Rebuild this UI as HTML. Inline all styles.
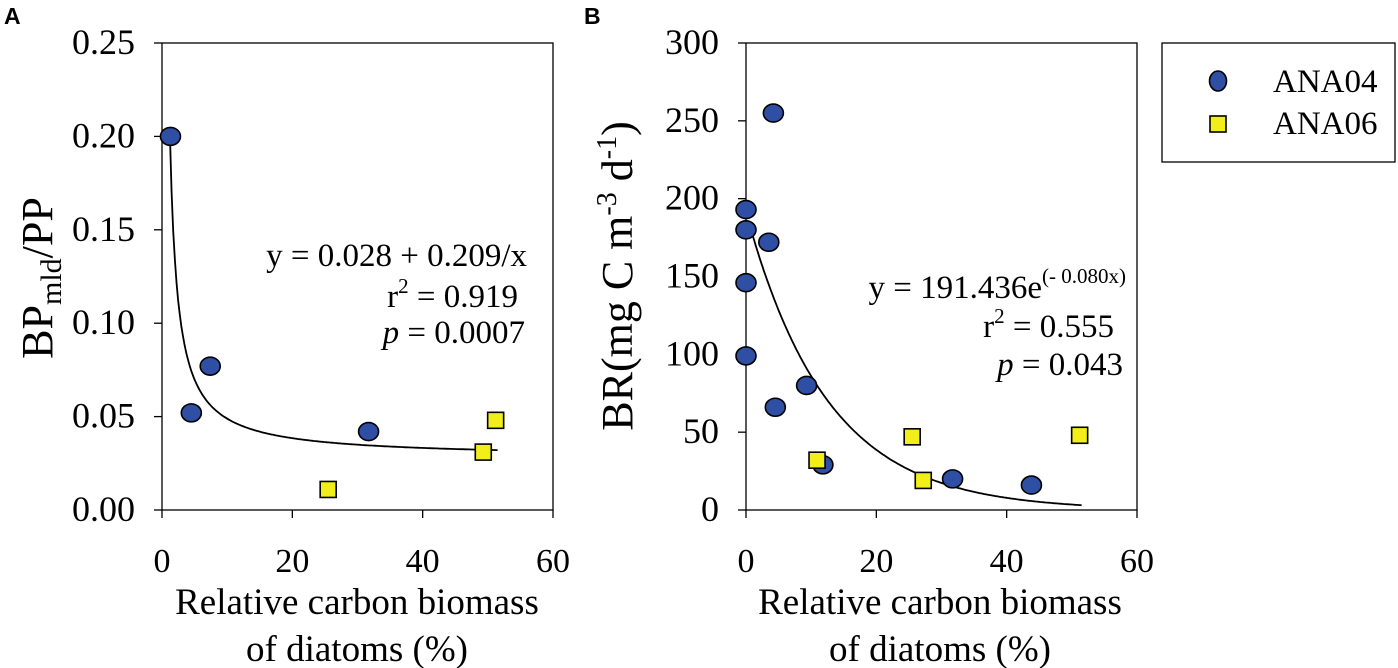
<!DOCTYPE html>
<html><head><meta charset="utf-8"><style>
html,body{margin:0;padding:0;background:#fff}
svg{display:block;font-family:"Liberation Serif",serif}
</style></head><body>
<svg id="chart" width="1398" height="668" viewBox="0 0 1398 668"></svg>
<script>
// Panel A data
const aCircX=[1.3,4.5,7.4,31.7];
const aCircY=[0.200,0.052,0.077,0.042];
const aSqX=[25.5,49.3,51.2];
const aSqY=[0.011,0.031,0.048];
const aFit=[0.028,0.209]; // y=a+b/x
const aYTicks=[0,0.05,0.10,0.15,0.20,0.25];
const aYLabels=["0.00","0.05","0.10","0.15","0.20","0.25"];
const xTicks=[0,20,40,60];
// Panel B data
const bCircX=[0,0,0,0,4.2,3.5,4.5,9.3,11.8,31.7,43.8];
const bCircY=[193,180,146,99,255,172,66,80,29,20,16];
const bSqX=[10.9,25.5,27.2,51.2];
const bSqY=[32,47,19,48];
const bFit=[191.436,-0.080];
const bYTicks=[0,50,100,150,200,250,300];

const NS="http://www.w3.org/2000/svg";
const svg=document.getElementById('chart');
function mk(tag,attrs,parent,text){const e=document.createElementNS(NS,tag);for(const k in attrs)e.setAttribute(k,attrs[k]);if(text!==undefined)e.textContent=text;(parent||svg).appendChild(e);return e;}

function panel(o){
  const g=mk('g',{});
  
  
  const sx=v=>o.x0+(v-0)/60*(o.x1-o.x0);
  const sy=v=>o.y0-(v/o.ymax)*(o.y0-o.y1);
  const box=mk('rect',{x:o.x0,y:o.y1,width:o.x1-o.x0,height:o.y0-o.y1,fill:'none',stroke:'#000','stroke-width':1.3},g);
  
  
  o.yt.forEach((t,i)=>{
    mk('line',{x1:o.x0-8,x2:o.x0,y1:sy(t),y2:sy(t),stroke:'#000','stroke-width':1.3},g);
    const tx=mk('text',{x:o.ylx,y:sy(t)+11,'text-anchor':'end','font-size':36},g,o.yl[i]);
    
    
  });
  xTicks.forEach(t=>{
    mk('line',{x1:sx(t),x2:sx(t),y1:o.y0,y2:o.y0+8,stroke:'#000','stroke-width':1.3},g);
    const tx=mk('text',{x:sx(t),y:572,'text-anchor':'middle','font-size':34},g,String(t));
    
    
  });
  const xt=mk('text',{x:o.xtc,y:614,'text-anchor':'middle','font-size':37},g,'Relative carbon biomass');
  
  
  const xt2=mk('text',{x:o.xtc,y:661,'text-anchor':'middle','font-size':37},g,'of diatoms (%)');
  
  
  let d='';
  for(let i=0;i<=200;i++){const x=o.fx0+(o.fx1-o.fx0)*i/200;const y=o.f(x);d+=(i?'L':'M')+sx(x).toFixed(1)+' '+sy(y).toFixed(1);}
  const p=mk('path',{d:d,fill:'none',stroke:'#000','stroke-width':1.8},g);
  
  
  o.cx.forEach((x,i)=>{
    const c=mk('ellipse',{cx:sx(x),cy:sy(o.cy[i]),rx:10,ry:9,fill:'#2E4FA3',stroke:'#000','stroke-width':1.6},g);
    
    
  });
  o.qx.forEach((x,i)=>{
    const r=mk('rect',{x:sx(x)-8,y:sy(o.qy[i])-8,width:16,height:16,fill:'#F2EE1A',stroke:'#000','stroke-width':1.6},g);
    
    
  });
  return g;
}

panel({name:'panel-a',x0:162,x1:553,y0:510,y1:43,ymax:0.25,yt:aYTicks,yl:aYLabels,xtc:357,ylx:135,
  f:x=>aFit[0]+aFit[1]/x,fx0:1.22,fx1:51.5,cx:aCircX,cy:aCircY,qx:aSqX,qy:aSqY});
panel({name:'panel-b',x0:746,x1:1137,y0:510,y1:43,ymax:300,yt:bYTicks,yl:bYTicks.map(String),xtc:940,ylx:719,
  f:x=>bFit[0]*Math.exp(bFit[1]*x),fx0:1.0,fx1:51.5,cx:bCircX,cy:bCircY,qx:bSqX,qy:bSqY});
</script>
<svg width="1398" height="668" style="position:absolute;left:0;top:0;font-family:'Liberation Serif',serif">
  <text x="4" y="24" font-family="Liberation Sans, sans-serif" font-weight="bold" font-size="23">A</text>
  <text x="584" y="24" font-family="Liberation Sans, sans-serif" font-weight="bold" font-size="23">B</text>
  <text transform="translate(52,278) rotate(-90)" text-anchor="middle" font-size="44">BP<tspan font-size="30" dy="9">mld</tspan><tspan dy="-9">/PP</tspan></text>
  <text transform="translate(632,276) rotate(-90)" text-anchor="middle" font-size="44">BR(mg C m<tspan font-size="28" dy="-16">-3</tspan><tspan dy="16"> d</tspan><tspan font-size="28" dy="-16">-1</tspan><tspan dy="16">)</tspan></text>
  <g font-size="33" text-anchor="end">
    <text x="527" y="266">y = 0.028 + 0.209/x</text>
    <text x="518" y="307">r<tspan font-size="21" dy="-14">2</tspan><tspan dy="14"> = 0.919</tspan></text>
    <text x="525" y="343"><tspan font-style="italic">p</tspan> = 0.0007</text>
  </g>
  <g font-size="33" text-anchor="end">
    <text x="1126" y="298">y = 191.436e<tspan font-size="21" dy="-15">(- 0.080x)</tspan></text>
    <text x="1114" y="337">r<tspan font-size="21" dy="-14">2</tspan><tspan dy="14"> = 0.555</tspan></text>
    <text x="1123" y="375"><tspan font-style="italic">p</tspan> = 0.043</text>
  </g>
  <g>
    <rect x="1162" y="43" width="233" height="119" fill="#fff" stroke="#000" stroke-width="1.3"/>
    <ellipse cx="1218" cy="81" rx="8.5" ry="10" fill="#2E4FA3" stroke="#000" stroke-width="1.6"/>
    <text x="1273" y="92" font-size="33">ANA04</text>
    <rect x="1210" y="116" width="16" height="16" fill="#F2EE1A" stroke="#000" stroke-width="1.6"/>
    <text x="1273" y="134" font-size="33">ANA06</text>
  </g>
</svg>
</body></html>
